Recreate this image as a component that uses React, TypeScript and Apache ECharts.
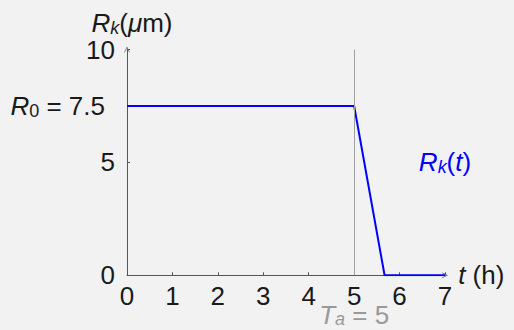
import React, { useEffect, useRef } from "react";
import * as echarts from "echarts";

const tValues = [0, 5, 5.67, 7];
const rValues = [7.5, 7.5, 0, 0];
const xTicks = [0, 1, 2, 3, 4, 5, 6, 7];
const yLabelValues = [0, 5, 7.5, 10];
const yTickValues = [0, 5, 10];
const activationTime = 5;
const initialRadius = 7.5;
const curveLabelPoint = [7, 5];

const FONT = "Liberation Sans";
const TXT = "#1a1a1a";

export default function App() {
  const ref = useRef<HTMLDivElement>(null);
  useEffect(() => {
    const chart = echarts.init(ref.current!, null, { renderer: "svg" });
    const base = { fontFamily: FONT, fontSize: 26, color: TXT };
    const option = {
      animation: false,
      backgroundColor: "#f2f2f2",
      grid: { left: 127, right: 69, top: 49.6, bottom: 54.7, containLabel: false },
      xAxis: {
        type: "value",
        min: 0,
        max: 7,
        interval: 1,
        name: "{i|t}{n| (h)}",
        nameLocation: "end",
        nameGap: 10,
        nameTextStyle: {
          ...base,
          rich: {
            i: { ...base, fontStyle: "italic" },
            n: { ...base },
          },
        },
        axisLine: {
          show: true,
          lineStyle: { color: "#555", width: 1 },
          symbol: ["none", "path://M0,10 L5,0 L10,10 L9,10.8 L5,2.4 L1,10.8 Z"],
          symbolSize: [8, 6],
        },
        axisTick: { show: true, inside: true, length: 3, lineStyle: { color: "#555" }, customValues: xTicks },
        axisLabel: { ...base, margin: 8, customValues: xTicks },
        splitLine: { show: false },
      },
      yAxis: {
        type: "value",
        min: 0,
        max: 10,
        name: "{i|R}{s|k}{n|(}{i|μ}{n|m)}",
        nameLocation: "end",
        nameGap: 12,
        nameTextStyle: {
          ...base,
          padding: [0, 0, 0, 10],
          rich: {
            i: { ...base, fontStyle: "italic" },
            s: { ...base, fontSize: 18, fontStyle: "italic", padding: [10, 0, 0, 0] },
            n: { ...base },
          },
        },
        axisLine: {
          show: true,
          lineStyle: { color: "#555", width: 1 },
          symbol: ["none", "path://M0,10 L5,0 L10,10 L9,10.8 L5,2.4 L1,10.8 Z"],
          symbolSize: [8, 6],
        },
        axisTick: { show: true, inside: true, length: 3, lineStyle: { color: "#555" }, customValues: yTickValues },
        axisLabel: {
          ...base,
          margin: 12,
          customValues: yLabelValues,
          formatter: (v: number) =>
            v === initialRadius ? "{i|R}{s|0}{n| = " + initialRadius + "}" : String(v),
          rich: {
            i: { ...base, fontStyle: "italic" },
            s: { ...base, fontSize: 18, padding: [10, 0, 0, 0] },
            n: { ...base, padding: [0, 10, 0, 0] },
          },
        },
        splitLine: { show: false },
      },
      series: [
        {
          type: "line",
          data: tValues.map((t, i) => [t, rValues[i]]),
          symbol: "none",
          lineStyle: { color: "#0000ff", width: 2 },
          z: 3,
          markLine: {
            silent: true,
            symbol: "none",
            lineStyle: { color: "#a0a0a0", width: 1, type: "solid" },
            label: {
              show: true,
              position: "start",
              distance: 27,
              formatter: "{i|T}{s|a}{n| = " + activationTime + "}",
              rich: {
                i: { ...base, color: "#999", fontStyle: "italic" },
                s: { ...base, color: "#999", fontSize: 18, fontStyle: "italic", padding: [8, 0, 0, 0] },
                n: { ...base, color: "#999" },
              },
            },
            data: [[{ coord: [activationTime, 0] }, { coord: [activationTime, 10] }]],
          },
          markPoint: {
            silent: true,
            symbol: "circle",
            symbolSize: 0,
            label: {
              show: true,
              position: "inside",
              formatter: "{i|R}{s|k}{n|(}{i|t}{n|)}",
              rich: {
                i: { ...base, color: "#0000ff", fontStyle: "italic" },
                s: { ...base, color: "#0000ff", fontSize: 18, fontStyle: "italic", padding: [10, 0, 0, 0] },
                n: { ...base, color: "#0000ff" },
              },
            },
            data: [{ coord: curveLabelPoint }],
          },
        },
      ],
    };
    chart.setOption(option as any);
    return () => chart.dispose();
  }, []);
  return (
    <div
      ref={ref}
      style={{ position: "absolute", left: 0, top: 0, width: 514, height: 330 }}
    />
  );
}
